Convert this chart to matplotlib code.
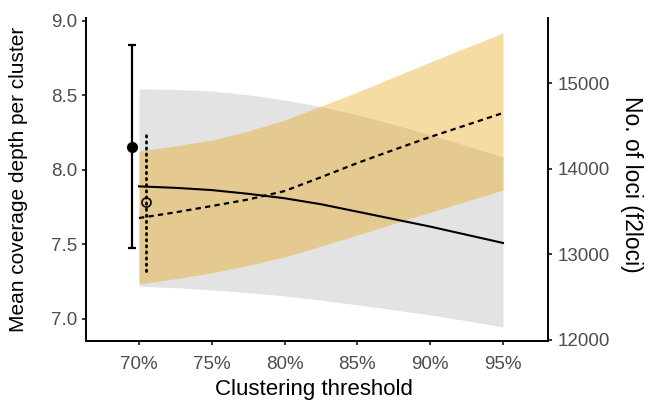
import matplotlib
matplotlib.use("Agg")
import matplotlib.pyplot as plt
import matplotlib.ticker as mticker

plt.rcParams['font.family'] = ['Liberation Sans', 'DejaVu Sans']

# ---- data ----
threshold = [70, 72.5, 75, 77.5, 80, 82.5, 85, 87.5, 90, 92.5, 95]
# mean coverage depth (left axis)
cov_fit = [7.89, 7.88, 7.865, 7.84, 7.81, 7.77, 7.72, 7.67, 7.62, 7.565, 7.51]
cov_lo = [7.22, 7.21, 7.195, 7.176, 7.154, 7.126, 7.094, 7.062, 7.027, 6.988, 6.946]
cov_hi = [8.544, 8.54, 8.53, 8.505, 8.47, 8.425, 8.37, 8.305, 8.235, 8.163, 8.087]
# number of loci (right axis)
loci_fit = [13424, 13490, 13564, 13640, 13739, 13900, 14066, 14220, 14370, 14510, 14650]
loci_lo = [12654, 12715, 12785, 12870, 12970, 13095, 13225, 13360, 13490, 13620, 13751]
loci_hi = [14206, 14265, 14334, 14440, 14568, 14730, 14895, 15070, 15245, 15415, 15584]
# observed values
obs_cov_x = 69.55
obs_cov = 8.156
obs_cov_lo = 7.479
obs_cov_hi = 8.839
obs_loci_x = 70.5
obs_loci = 13611
obs_loci_lo = 12806
obs_loci_hi = 14405

x_ticks = [70, 75, 80, 85, 90, 95]
x_ticklabels = ["70%", "75%", "80%", "85%", "90%", "95%"]
left_ticks = [7.0, 7.5, 8.0, 8.5, 9.0]
right_ticks = [12000, 13000, 14000, 15000]

W, H = 651, 408
fig = plt.figure(figsize=(W / 100, H / 100), dpi=100)
pos = [86 / W, 1 - 341 / H, (548 - 86) / W, (341 - 18) / H]

ax = fig.add_axes(pos)
ax2 = ax.twinx()
ax3 = fig.add_axes(pos, sharex=ax)
ax3.patch.set_visible(False)
for s in ax3.spines.values():
    s.set_visible(False)
ax3.tick_params(left=False, labelleft=False, bottom=False, labelbottom=False)

xlim = (66.36, 98.09)
ylim_left = (6.852, 9.02)
ylim_right = (11988, 15759)
ax.set_xlim(*xlim)
ax.set_ylim(*ylim_left)
ax3.set_ylim(*ylim_left)
ax2.set_ylim(*ylim_right)

# grey band (coverage CI)
ax.fill_between(threshold, cov_lo, cov_hi, color='#e3e3e3', lw=0)
# orange band (loci CI)
ax2.fill_between(threshold, loci_lo, loci_hi, color='#E69F00', alpha=0.36, lw=0)
# dashed loci fit
ax2.plot(threshold, loci_fit, color='black', lw=1.6, ls=(0, (2.4, 1.9)))
# observed loci: dotted range + open circle
ax2.vlines([obs_loci_x], [obs_loci_lo], [obs_loci_hi], color='black',
           lw=2.0, linestyles=[(0, (0.5, 1.7))], capstyle='round')
ax2.plot([obs_loci_x], [obs_loci], marker='o', mfc='none', mec='black',
         mew=1.2, ms=6.5, ls='none')

# solid coverage fit
ax3.plot(threshold, cov_fit, color='black', lw=1.5)
# observed coverage error bar
ax3.errorbar([obs_cov_x], [obs_cov],
             yerr=[[obs_cov - obs_cov_lo], [obs_cov_hi - obs_cov]],
             fmt='o', color='black', ms=7, elinewidth=1.6,
             capsize=2.8, capthick=1.6)

# axes styling
ax.spines['top'].set_visible(False)
ax2.spines['top'].set_visible(False)
ax2.spines['left'].set_visible(False)
ax2.spines['bottom'].set_visible(False)
for sp in ['left', 'bottom']:
    ax.spines[sp].set_linewidth(1.4)
ax.spines['right'].set_visible(False)
ax2.spines['right'].set_linewidth(1.4)

ax.set_xticks(x_ticks)
ax.set_xticklabels(x_ticklabels)
ax.set_yticks(left_ticks)
ax.yaxis.set_major_formatter(mticker.FormatStrFormatter('%.1f'))
ax2.set_yticks(right_ticks)
ax2.set_yticklabels([str(v) for v in right_ticks])

ax.tick_params(axis='x', direction='out', length=3, width=1.1,
               labelsize=13.5, labelcolor='#4d4d4d', pad=7.5)
ax.tick_params(axis='y', direction='out', length=3, width=1.1,
               labelsize=13.5, labelcolor='#4d4d4d', pad=3)
ax2.tick_params(axis='y', direction='out', length=3, width=1.1,
                labelsize=13.5, labelcolor='#4d4d4d', pad=4)

ax.set_xlabel('Clustering threshold', fontsize=16, va='center', ha='center')
ax.xaxis.set_label_coords((314 - 86) / 462, (341 - 390) / 323)
ax.set_ylabel('Mean coverage depth per cluster', fontsize=15,
              va='center', ha='center')
ax.yaxis.set_label_coords((19 - 86) / 462, 0.5)
ax2.set_ylabel('No. of loci (f2loci)', fontsize=16.5, rotation=270,
               va='center', ha='center')
ax2.yaxis.set_label_coords((631 - 86) / 462, (341 - 184.5) / 323)

fig.savefig('out.png', dpi=100)
